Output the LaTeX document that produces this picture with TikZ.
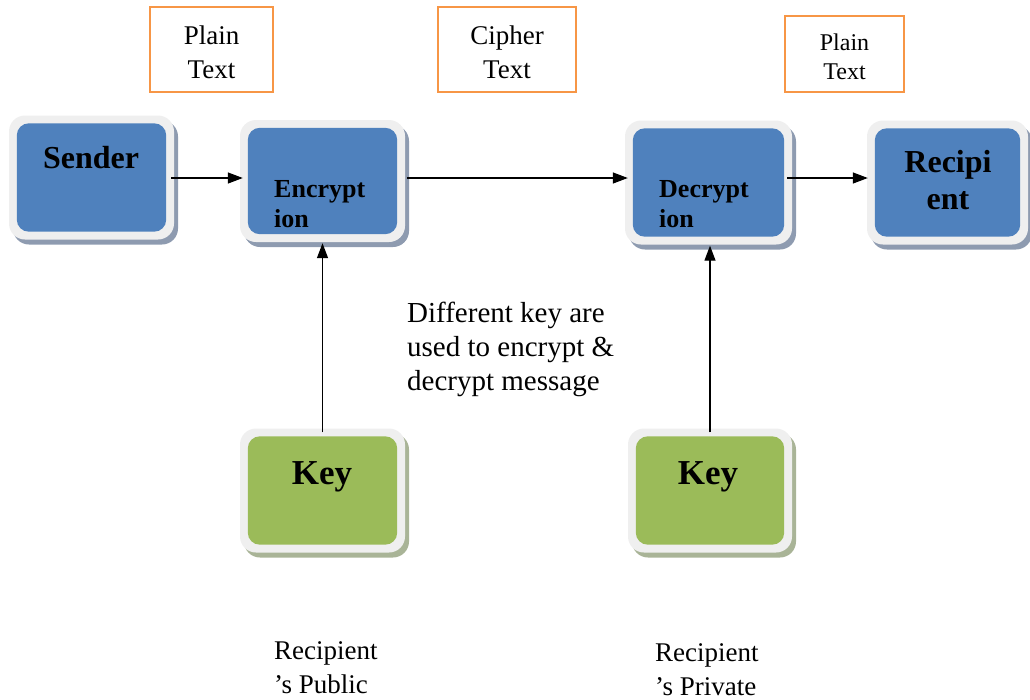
\documentclass[tikz,border=0pt]{standalone}
\usepackage{fontspec}
\setmainfont{Liberation Serif}
\usetikzlibrary{arrows.meta,shadows}

\definecolor{boxblue}{HTML}{4F81BD}
\definecolor{boxgreen}{HTML}{9BBB59}
\definecolor{framegray}{HTML}{EFEFEF}
\definecolor{shblue}{HTML}{8E9BB0}
\definecolor{shgreen}{HTML}{A9B497}
\definecolor{tagorange}{HTML}{F79646}

\tikzset{
  panel/.style={rectangle, rounded corners=16pt, fill=framegray, inner sep=0pt,
    minimum width=165pt, minimum height=124pt,
    drop shadow={shadow xshift=4pt, shadow yshift=-5pt, fill=#1, opacity=1}},
  tag/.style={rectangle, draw=tagorange, line width=1.4pt, inner sep=0pt},
  tagtext/.style={align=center, inner sep=0pt, yshift=-3pt,
    font=\fontsize{27}{34}\selectfont},
  flow/.style={-{Triangle[length=15pt,width=11pt]}, line width=1.3pt},
  boxlabel/.style={font=\fontsize{32}{37}\selectfont\bfseries, inner sep=0pt},
  steplabel/.style={font=\fontsize{26}{30}\selectfont\bfseries, inner sep=0pt, align=left},
  note/.style={font=\fontsize{29}{34}\selectfont, inner sep=0pt, align=left},
  keynote/.style={font=\fontsize{27}{34}\selectfont, inner sep=0pt, align=left},
}

% inner coloured face of a panel
\newcommand{\panelface}[2]{%
  \fill[#2, rounded corners=12pt] ([shift={(8pt,8pt)}]#1.south west)
    rectangle ([shift={(-8pt,-8pt)}]#1.north east);}

\begin{document}
\begin{tikzpicture}[x=1pt,y=-1pt]
\useasboundingbox (0,0) rectangle (1030,699);

% panels
\node[panel=shblue] (sender) at (91.5,177.5) {};
\node[panel=shblue, minimum height=122pt] (enc) at (322.5,181) {};
\node[panel=shblue, minimum width=167pt] (dec) at (708.5,182.5) {};
\node[panel=shblue, minimum width=161pt] (rec) at (947.5,182.5) {};
\node[panel=shgreen] (key1) at (322.5,490.5) {};
\node[panel=shgreen, minimum width=164pt] (key2) at (710,490.5) {};

\panelface{sender}{boxblue}
\panelface{enc}{boxblue}
\panelface{dec}{boxblue}
\panelface{rec}{boxblue}
\panelface{key1}{boxgreen}
\panelface{key2}{boxgreen}

% panel labels
\node[boxlabel, anchor=base] (senderlbl) at (91,168) {Sender};
\node[steplabel, anchor=north west] (enclbl) at (274,180) {Encrypt\\ion};
\node[steplabel, anchor=north west] (declbl) at (659,180) {Decrypt\\ion};
\node[boxlabel, anchor=north, align=center] (reclbl) at (948,150) {Recipi\\ent};
\node[boxlabel, font=\fontsize{35}{38}\selectfont\bfseries, anchor=base] (key1lbl) at (322,484) {Key};
\node[boxlabel, font=\fontsize{35}{38}\selectfont\bfseries, anchor=base] (key2lbl) at (708,484) {Key};

% message tags
\node[tag, minimum width=123pt, minimum height=85pt,
  label={[tagtext]center:Plain\\Text}] (plain1) at (211.5,49.5) {};
\node[tag, minimum width=138pt, minimum height=85pt,
  label={[tagtext]center:Cipher\\Text}] (cipher) at (507,49.5) {};
\node[tag, minimum width=119pt, minimum height=76pt,
  label={[tagtext, font=\fontsize{24}{29}\selectfont]center:Plain\\Text}] (plain2) at (844.5,54) {};

% connectors
\draw[flow] ([xshift=-3pt]sender.east |- 0,178) -- ([xshift=3pt]enc.west |- 0,178);
\draw[flow] ([xshift=2pt]enc.east |- 0,178) -- ([xshift=3pt]dec.west |- 0,178);
\draw[flow] ([xshift=-5pt]dec.east |- 0,178) -- ([xshift=1pt]rec.west |- 0,178);
\draw[flow] ([yshift=-4pt]key1.north) -- ([yshift=-1pt]enc.south);
\draw[flow] ([yshift=-4pt]key2.north) -- ([yshift=-1pt]key2.north |- dec.south);

% notes
\node[note, anchor=north west] (midnote) at (407,302) {Different key are\\used to encrypt \&\\decrypt message};
\node[keynote, anchor=north west] (pubnote) at (274,641) {Recipient\\’s Public};
\node[keynote, anchor=north west] (privnote) at (655,643) {Recipient\\’s Private};
\end{tikzpicture}
\end{document}
